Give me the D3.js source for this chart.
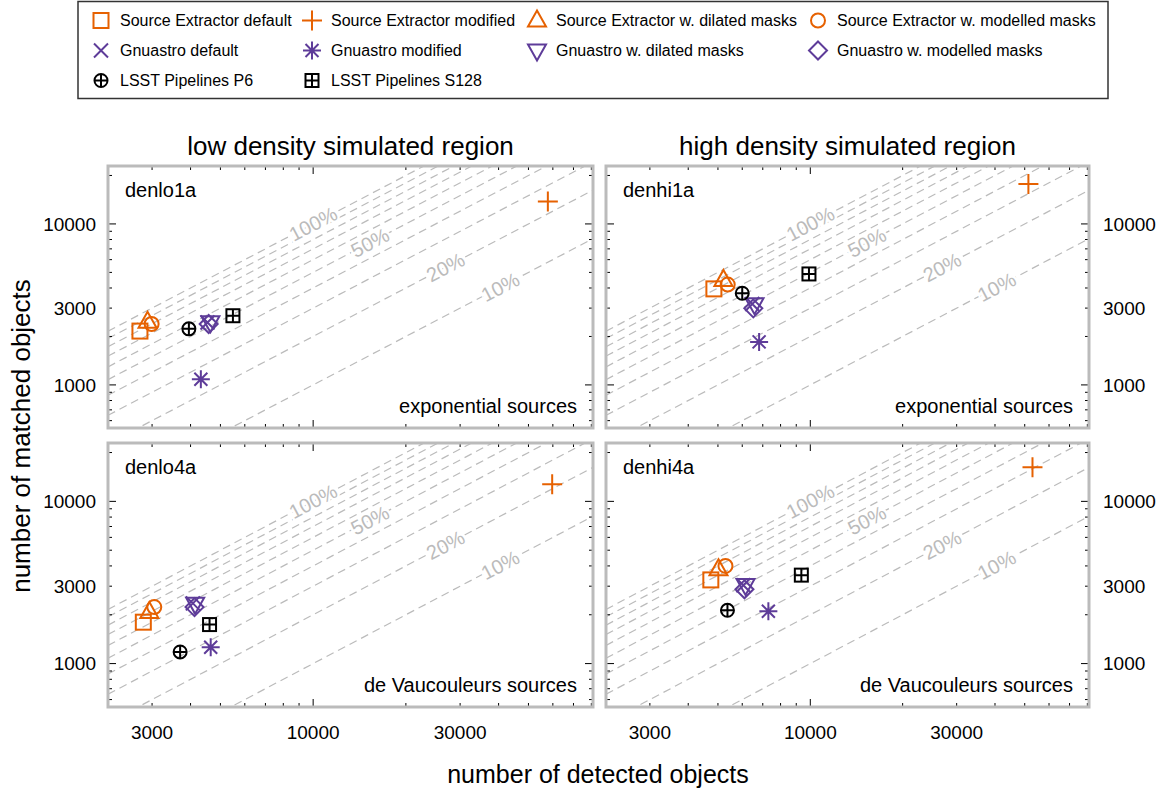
<!DOCTYPE html>
<html>
<head>
<meta charset="utf-8">
<script src="https://cdn.jsdelivr.net/npm/d3@7"></script>
<style>
  body { margin: 0; background: #fff; }
  svg { font-family: "Liberation Sans", Arial, Helvetica, sans-serif; }
</style>
</head>
<body>
<svg class="chart" width="1175" height="796"></svg>
<script>
// panels: denlo1a, denhi1a, denlo4a, denhi4a ; each point is [detected, matched]
const panelNames = ["denlo1a", "denhi1a", "denlo4a", "denhi4a"];
const panelNotes = ["exponential sources", "exponential sources", "de Vaucouleurs sources", "de Vaucouleurs sources"];
const columnTitles = ["low density simulated region", "high density simulated region"];

const seDefault  = [[2740, 2160], [4850, 3950], [2810, 1800], [4740, 3280]];
const seModified = [[57800, 13800], [51400, 17700], [59700, 12750], [53000, 16250]];
const seDilated  = [[2900, 2470], [5210, 4490], [2940, 2080], [5020, 3820]];
const seModelled = [[2990, 2390], [5380, 4200], [3050, 2230], [5290, 4000]];
const gnuDefault  = [[4540, 2440], [6470, 3180], [4070, 2350], [6050, 3040]];
const gnuModified = [[4320, 1085], [6810, 1850], [4650, 1260], [7300, 2100]];
const gnuDilated  = [[4640, 2450], [6580, 3170], [4140, 2335], [6150, 3050]];
const gnuModelled = [[4580, 2390], [6520, 2990], [4120, 2230], [6100, 2870]];
const lsstP6   = [[3950, 2230], [6000, 3710], [3700, 1180], [5370, 2130]];
const lsstS128 = [[5490, 2690], [9900, 4890], [4610, 1740], [9350, 3510]];

const methodNames = [
    "Source Extractor default", "Source Extractor modified", "Source Extractor w. dilated masks", "Source Extractor w. modelled masks",
    "Gnuastro default", "Gnuastro modified", "Gnuastro w. dilated masks", "Gnuastro w. modelled masks",
    "LSST Pipelines P6", "LSST Pipelines S128"
];

const xTickLabels = [3000, 10000, 30000];
const yTickLabels = [1000, 3000, 10000];

// matched / detected reference lines
const ratioLines = [1, 0.9, 0.8, 0.7, 0.6, 0.5, 0.4, 0.3, 0.2, 0.1];
const ratioLabels = ["100%", "50%", "20%", "10%"];
const ratioLabelValues = [1, 0.5, 0.2, 0.1];
const ratioLabelAt = [10000, 15300, 26900, 40500];

const orange = "#e66101";
const purple = "#5e3c99";

const methods = [
    { data: seDefault, shape: "square", color: orange },
    { data: seModified, shape: "plus", color: orange },
    { data: seDilated, shape: "triUp", color: orange },
    { data: seModelled, shape: "circle", color: orange },
    { data: gnuDefault, shape: "cross", color: purple },
    { data: gnuModified, shape: "star", color: purple },
    { data: gnuDilated, shape: "triDown", color: purple },
    { data: gnuModelled, shape: "diamond", color: purple },
    { data: lsstP6, shape: "circlePlus", color: "#000" },
    { data: lsstS128, shape: "squarePlus", color: "#000" }
];

const svg = d3.select(".chart");

function drawMarker(g, shape, color) {
    const s = g.append("g").attr("fill", "none").attr("stroke", color).attr("stroke-width", 2);
    if (shape === "square") s.append("rect").attr("x", -7.5).attr("y", -7.5).attr("width", 15).attr("height", 15);
    if (shape === "plus") s.append("path").attr("d", "M-10,0H10M0,-10V10");
    if (shape === "triUp") s.append("path").attr("d", "M0,-10L9,6L-9,6Z");
    if (shape === "circle") s.append("circle").attr("r", 7);
    if (shape === "cross") s.append("path").attr("d", "M-7,-7L7,7M-7,7L7,-7");
    if (shape === "star") s.append("path").attr("d", "M-9,0H9M0,-9V9M-6.5,-6.5L6.5,6.5M-6.5,6.5L6.5,-6.5");
    if (shape === "triDown") s.append("path").attr("d", "M0,10L9,-6L-9,-6Z");
    if (shape === "diamond") s.append("path").attr("d", "M0,-9L9,0L0,9L-9,0Z");
    if (shape === "circlePlus") {
        s.append("circle").attr("r", 6.5);
        s.append("path").attr("d", "M-6.5,0H6.5M0,-6.5V6.5");
    }
    if (shape === "squarePlus") {
        s.append("rect").attr("x", -6.5).attr("y", -6.5).attr("width", 13).attr("height", 13);
        s.append("path").attr("d", "M-6.5,0H6.5M0,-6.5V6.5");
    }
}

// legend
const legendCols = [101, 312, 537, 818];
const legendRows = [20.5, 50.5, 80.5];
svg.append("rect")
    .attr("x", 78).attr("y", 1.5).attr("width", 1030).attr("height", 97)
    .attr("fill", "none").attr("stroke", "#333").attr("stroke-width", 1.5);
methods.forEach((m, i) => {
    const cx = legendCols[i % 4];
    const cy = legendRows[Math.floor(i / 4)];
    drawMarker(svg.append("g").attr("transform", `translate(${cx},${cy})`), m.shape, m.color);
    svg.append("text")
        .attr("x", cx + 19).attr("y", cy + 5.5)
        .attr("font-size", 16)
        .text(methodNames[i]);
});

// panel geometry
const colX = [[108, 593], [606, 1089]];
const rowY = [[166, 428], [443, 707]];
const xDomain = [2158, 81000];
const yDomain = [540, 22900];

const defs = svg.append("defs");

panelNames.forEach((name, p) => {
    const col = p % 2, row = Math.floor(p / 2);
    const [x0, x1] = colX[col];
    const [y0, y1] = rowY[row];
    const x = d3.scaleLog().domain(xDomain).range([x0, x1]);
    const y = d3.scaleLog().domain(yDomain).range([y1, y0]);

    defs.append("clipPath").attr("id", "clip" + p)
        .append("rect").attr("x", x0).attr("y", y0).attr("width", x1 - x0).attr("height", y1 - y0);

    const g = svg.append("g");
    const inner = g.append("g").attr("clip-path", `url(#clip${p})`);

    // reference lines
    ratioLines.forEach(r => {
        inner.append("line")
            .attr("x1", x(xDomain[0])).attr("y1", y(xDomain[0] * r))
            .attr("x2", x(xDomain[1])).attr("y2", y(xDomain[1] * r))
            .attr("stroke", "#bbb").attr("stroke-width", 1.2)
            .attr("stroke-dasharray", "8,5");
    });
    const angle = Math.atan2(y(1000) - y(10000), x(10000) - x(1000)) * 180 / Math.PI;
    ratioLabels.forEach((lab, i) => {
        const lx = x(ratioLabelAt[i]);
        const ly = y(ratioLabelAt[i] * ratioLabelValues[i]);
        inner.append("text")
            .attr("transform", `translate(${lx},${ly}) rotate(${-angle})`)
            .attr("text-anchor", "middle").attr("dy", "0.35em")
            .attr("font-size", 20)
            .attr("fill", "#bbb")
            .attr("stroke", "#fff").attr("stroke-width", 5).attr("paint-order", "stroke")
            .text(lab);
    });

    // markers
    methods.forEach(m => {
        const d = m.data[p];
        drawMarker(inner.append("g").attr("transform", `translate(${x(d[0])},${y(d[1])})`), m.shape, m.color);
    });

    // ticks on all four sides, pointing inward
    const isMajor = v => Math.abs(Math.log10(v) - Math.round(Math.log10(v))) < 1e-9;
    x.ticks().forEach(v => {
        const len = isMajor(v) ? 8 : 4;
        g.append("line").attr("x1", x(v)).attr("x2", x(v)).attr("y1", y1).attr("y2", y1 - len).attr("stroke", "#000");
        g.append("line").attr("x1", x(v)).attr("x2", x(v)).attr("y1", y0).attr("y2", y0 + len).attr("stroke", "#000");
    });
    y.ticks().forEach(v => {
        const len = isMajor(v) ? 8 : 4;
        g.append("line").attr("y1", y(v)).attr("y2", y(v)).attr("x1", x0).attr("x2", x0 + len).attr("stroke", "#000");
        g.append("line").attr("y1", y(v)).attr("y2", y(v)).attr("x1", x1).attr("x2", x1 - len).attr("stroke", "#000");
    });

    // frame
    g.append("rect")
        .attr("x", x0).attr("y", y0).attr("width", x1 - x0).attr("height", y1 - y0)
        .attr("fill", "none").attr("stroke", "#bbb").attr("stroke-width", 3);

    g.append("text").attr("x", x0 + 17).attr("y", y0 + 31)
        .attr("font-size", 20).text(name);
    g.append("text").attr("x", x1 - 16).attr("y", y1 - 15)
        .attr("font-size", 20).attr("text-anchor", "end").text(panelNotes[p]);

    // tick labels
    if (row === 1) {
        xTickLabels.forEach(v => {
            svg.append("text").attr("x", x(v)).attr("y", 739)
                .attr("font-size", 19).attr("text-anchor", "middle").text(v);
        });
    }
    yTickLabels.forEach(v => {
        svg.append("text")
            .attr("x", col === 0 ? x0 - 12 : x1 + 14)
            .attr("y", y(v)).attr("dy", "0.35em")
            .attr("font-size", 19)
            .attr("text-anchor", col === 0 ? "end" : "start")
            .text(v);
    });
    if (row === 0) {
        svg.append("text").attr("x", (x0 + x1) / 2).attr("y", 155)
            .attr("font-size", 26).attr("text-anchor", "middle").text(columnTitles[col]);
    }
});

svg.append("text")
    .attr("transform", "translate(30,436) rotate(-90)")
    .attr("font-size", 26).attr("text-anchor", "middle")
    .text("number of matched objects");
svg.append("text")
    .attr("x", 598).attr("y", 783)
    .attr("font-size", 25).attr("text-anchor", "middle")
    .text("number of detected objects");
</script>
</body>
</html>
